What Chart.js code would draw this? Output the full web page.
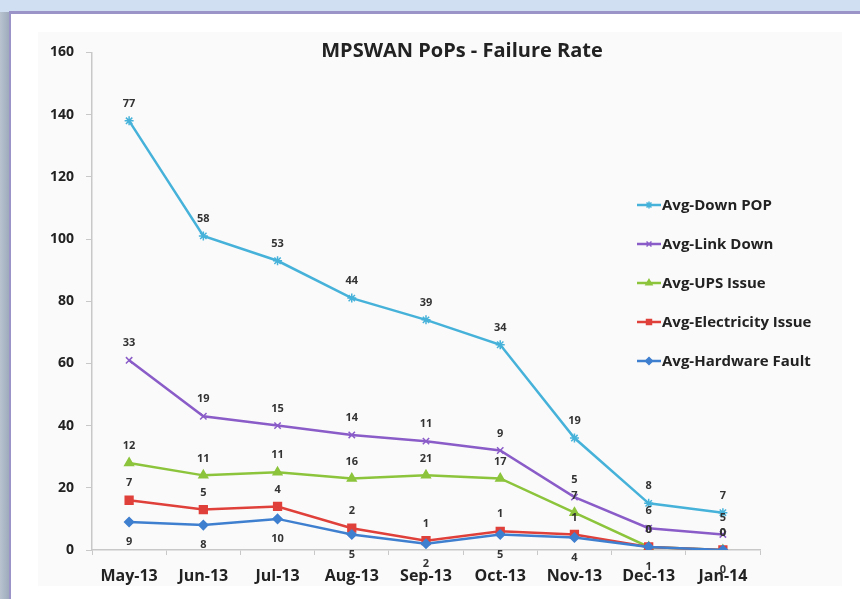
<!DOCTYPE html>
<html>
<head>
<meta charset="utf-8">
<script src="https://cdn.jsdelivr.net/npm/chart.js@4.4.1/dist/chart.umd.min.js"></script>
<style>
    html, body { margin: 0; padding: 0; }
    body { width: 860px; height: 599px; background: #d0e0f2; position: relative; overflow: hidden; font-family: "Open Sans", sans-serif; }
    .shadow { position: absolute; left: 0; top: 12px; width: 9px; bottom: 0; background: linear-gradient(to right, #b9c3d0, #9eabbb); }
    .panel { position: absolute; left: 9px; top: 11px; right: 0; bottom: 0; background: #fff; border-left: 2px solid #9a94c8; border-top: 3px solid #9a94c8; }
    .box { position: absolute; left: 38px; top: 32px; width: 804px; height: 554px; background: #fafafa; }
    #failChart { position: absolute; left: 0; top: 0; }
</style>
</head>
<body>
<div class="shadow"></div>
<div class="panel"></div>
<div class="box"><canvas id="failChart" width="804" height="564"></canvas></div>
<script>
// raw monthly values; the chart stacks them (Hardware at the bottom)
const months = ['May-13', 'Jun-13', 'Jul-13', 'Aug-13', 'Sep-13', 'Oct-13', 'Nov-13', 'Dec-13', 'Jan-14'];
const hardwareFault = [9, 8, 10, 5, 2, 5, 4, 1, 0];
const electricityIssue = [7, 5, 4, 2, 1, 1, 1, 0, 0];
const upsIssue = [12, 11, 11, 16, 21, 17, 7, 0, 0];
const linkDown = [33, 19, 15, 14, 11, 9, 5, 6, 5];
const downPop = [77, 58, 53, 44, 39, 34, 19, 8, 7];
const yTicks = [0, 20, 40, 60, 80, 100, 120, 140, 160];

const series = [
    { label: 'Avg-Hardware Fault', data: hardwareFault, color: '#3f7fcf', point: 'rectRot', r: 4.5 },
    { label: 'Avg-Electricity Issue', data: electricityIssue, color: '#e0403a', point: 'rect', r: 5.5 },
    { label: 'Avg-UPS Issue', data: upsIssue, color: '#8cc43c', point: 'triangle', r: 5 },
    { label: 'Avg-Link Down', data: linkDown, color: '#8a5cc8', point: 'crossRot', r: 4.5 },
    { label: 'Avg-Down POP', data: downPop, color: '#46b2da', point: 'star', r: 4.5 }
];

const valueLabels = {
    id: 'valueLabels',
    afterDatasetsDraw(chart) {
        const ctx = chart.ctx;
        ctx.save();
        ctx.font = 'bold 11px "Open Sans"';
        ctx.fillStyle = '#333';
        ctx.textAlign = 'center';
        ctx.textBaseline = 'middle';
        chart.data.datasets.forEach((ds, di) => {
            const meta = chart.getDatasetMeta(di);
            meta.data.forEach((pt, i) => {
                const dy = di === 0 ? 20 : -17;
                ctx.fillText(String(ds.data[i]), pt.x, pt.y + dy);
            });
        });
        ctx.restore();
    }
};

const titleAndLegend = {
    id: 'titleAndLegend',
    afterDraw(chart) {
        const ctx = chart.ctx;
        ctx.save();
        ctx.font = 'bold 20px "Open Sans"';
        ctx.fillStyle = '#222';
        ctx.textAlign = 'center';
        ctx.textBaseline = 'middle';
        ctx.fillText('MPSWAN PoPs - Failure Rate', 424, 19);

        ctx.font = 'bold 15px "Open Sans"';
        ctx.textAlign = 'left';
        const items = chart.data.datasets.slice().reverse();
        items.forEach((ds, i) => {
            const y = 173 + i * 39;
            ctx.strokeStyle = ds.borderColor;
            ctx.fillStyle = ds.borderColor;
            ctx.lineWidth = 2.5;
            ctx.beginPath();
            ctx.moveTo(599, y);
            ctx.lineTo(623, y);
            ctx.stroke();
            ctx.lineWidth = 1.5;
            Chart.helpers.drawPoint(ctx, { pointStyle: ds.pointStyle, radius: 3.5, borderWidth: 1.5 }, 611, y);
            ctx.fillStyle = '#222';
            ctx.fillText(ds.label, 624, y + 1);
        });
        ctx.restore();
    }
};

new Chart(document.getElementById('failChart').getContext('2d'), {
    type: 'line',
    data: {
        labels: months,
        datasets: series.map(s => ({
            label: s.label,
            data: s.data,
            borderColor: s.color,
            backgroundColor: s.color,
            pointStyle: s.point,
            pointRadius: s.r,
            pointBorderWidth: 1.5,
            borderWidth: 2.5,
            tension: 0,
            fill: false
        }))
    },
    options: {
        responsive: false,
        devicePixelRatio: 1,
        animation: false,
        layout: { padding: { left: 0, top: 14, right: 82, bottom: 6 } },
        plugins: { legend: { display: false }, tooltip: { enabled: false } },
        scales: {
            x: {
                offset: true,
                grid: { display: true, drawOnChartArea: false, color: '#c8c8c8', tickLength: 5, offset: true },
                border: { color: '#c8c8c8', width: 1.5 },
                ticks: { font: { family: 'Open Sans', size: 16, weight: 'bold' }, color: '#222', padding: 12, maxRotation: 0 },
                afterFit: s => { s.height = 40; }
            },
            y: {
                stacked: true,
                min: 0,
                max: 160,
                afterBuildTicks: s => { s.ticks = yTicks.map(v => ({ value: v })); },
                grid: { display: true, drawOnChartArea: false, color: '#c8c8c8', tickLength: 6 },
                border: { color: '#c8c8c8', width: 1.5 },
                ticks: { font: { family: 'Open Sans', size: 14, weight: 'bold' }, color: '#222', padding: 12 },
                afterFit: s => { s.width = 54; }
            }
        }
    },
    plugins: [valueLabels, titleAndLegend]
});
</script>
</body>
</html>
